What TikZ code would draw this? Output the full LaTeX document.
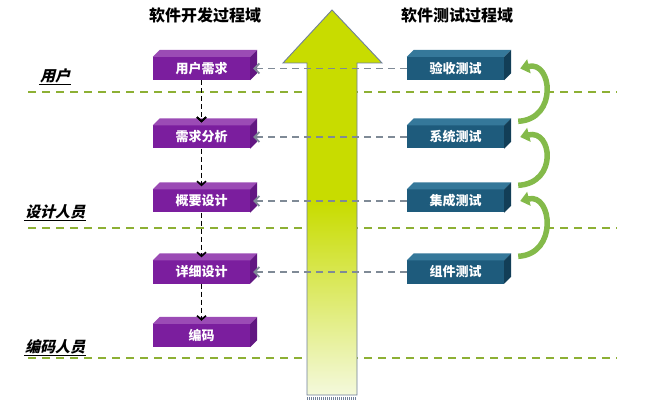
\documentclass[tikz,border=0pt]{standalone}
\usepackage{fontspec}
\usepackage{tikz}
\usetikzlibrary{arrows.meta}
\newfontfamily\cjk{Noto Sans CJK SC}
\newfontfamily\cjkslant[FakeSlant=0.25]{Noto Sans CJK SC}
\definecolor{devfront}{HTML}{7B1E9E}
\definecolor{devtop}{HTML}{9B4BB5}
\definecolor{devside}{HTML}{621782}
\definecolor{testfront}{HTML}{1E5B7C}
\definecolor{testtop}{HTML}{35789A}
\definecolor{testside}{HTML}{123E57}
\definecolor{arrowtop}{HTML}{C8DC00}
\definecolor{arrowlow}{HTML}{F4F9DC}
\definecolor{arrowedge}{HTML}{6F7F99}
\definecolor{roleline}{HTML}{8DB034}
\definecolor{traceline}{HTML}{7F8A96}
\definecolor{loopgreen}{HTML}{84BA4A}
\pgfdeclareverticalshading{arrowshade}{100bp}{color(0bp)=(arrowlow); color(25bp)=(arrowlow); color(50bp)=(arrowtop); color(100bp)=(arrowtop)}
\tikzset{
  devbox/.style={fill=devfront, minimum width=97pt, minimum height=23pt, inner sep=0pt,
    text=white, font=\cjk\bfseries\fontsize{13}{13}\selectfont},
  testbox/.style={devbox, fill=testfront},
  title/.style={font=\cjk\bfseries\fontsize{16}{16}\selectfont},
  role/.style={font=\cjkslant\bfseries\fontsize{15}{15}\selectfont, inner sep=1pt},
  flow/.style={black, dash pattern=on 5pt off 3pt, line width=1.6pt, -{Straight Barb[length=4pt,width=9pt]}},
  trace/.style={traceline, dash pattern=on 7pt off 5pt, line width=1.7pt, -{Straight Barb[length=5pt,width=10pt]}},
  divider/.style={roleline, dash pattern=on 8pt off 6pt, line width=1.7pt},
  loop/.style={loopgreen, line width=5.5pt, -{Triangle[length=9pt,width=14pt]}}
}
\newcommand{\boxsides}[3]{%
  \fill[#2] (#1.north west) -- ++(7pt,7pt) -- ([shift={(7pt,7pt)}]#1.north east) -- (#1.north east) -- cycle;
  \fill[#3] (#1.north east) -- ++(7pt,7pt) -- ([shift={(7pt,7pt)}]#1.south east) -- (#1.south east) -- cycle;
}
\begin{document}
\begin{tikzpicture}[x=1pt,y=1pt]
  \useasboundingbox (0,0) rectangle (656,402);
  \node[title] (devtitle) at (205,387) {软件开发过程域};
  \node[title] (testtitle) at (457,387) {软件测试过程域};
  \draw[divider] (28,310) -- (617,310);
  \draw[divider] (28,174) -- (617,174);
  \draw[divider] (28,44) -- (617,44);
  \node[role] (user) at (55,326) {用户};
  \node[role] (designer) at (55,190) {设计人员};
  \node[role] (coder) at (55,55) {编码人员};
  \foreach \r in {user,designer,coder}
    \draw[line width=0.9pt] (\r.south west) -- (\r.south east);
  \shadedraw[shading=arrowshade, draw=arrowedge, line width=0.9pt]
    (307,7) -- (307,339) -- (283,339) -- (332,392) -- (382,339) -- (357,339) -- (357,7) -- cycle;
  \draw[arrowedge, line width=3pt, dash pattern=on 1pt off 1pt] (307,4) -- (357,4);
  \node[devbox] (req) at (201.5,333.5) {用户需求};
  \node[devbox] (ana) at (201.5,265) {需求分析};
  \node[devbox] (hld) at (201.5,201) {概要设计};
  \node[devbox] (lld) at (201.5,130) {详细设计};
  \node[devbox] (code) at (201.5,66.5) {编码};
  \foreach \b in {req,ana,hld,lld,code}
    \boxsides{\b}{devtop}{devside}
  \node[testbox] (acc) at (455.5,333.5) {验收测试};
  \node[testbox] (sys) at (455.5,265) {系统测试};
  \node[testbox] (integ) at (455.5,201) {集成测试};
  \node[testbox] (unit) at (455.5,130) {组件测试};
  \foreach \b in {acc,sys,integ,unit}
    \boxsides{\b}{testtop}{testside}
  \draw[flow] (req.south) -- ([yshift=3pt]ana.north);
  \draw[flow] (ana.south) -- ([yshift=3pt]hld.north);
  \draw[flow] (hld.south) -- ([yshift=3pt]lld.north);
  \draw[flow] (lld.south) -- ([yshift=3pt]code.north);
  \draw[trace] (acc.west) -- ([xshift=3pt]req.east);
  \draw[trace] (sys.west) -- ([xshift=3pt]ana.east);
  \draw[trace] (integ.west) -- ([xshift=3pt]hld.east);
  \draw[trace] (unit.west) -- ([xshift=3pt]lld.east);
  \draw[loop] ([shift={(14pt,4pt)}]sys.north east) .. controls +(40,2) and +(32,8) .. ([xshift=16pt]acc.east);
  \draw[loop] ([shift={(14pt,4pt)}]integ.north east) .. controls +(40,2) and +(32,8) .. ([xshift=16pt]sys.east);
  \draw[loop] ([shift={(14pt,4pt)}]unit.north east) .. controls +(40,2) and +(32,8) .. ([xshift=16pt]integ.east);
\end{tikzpicture}
\end{document}
